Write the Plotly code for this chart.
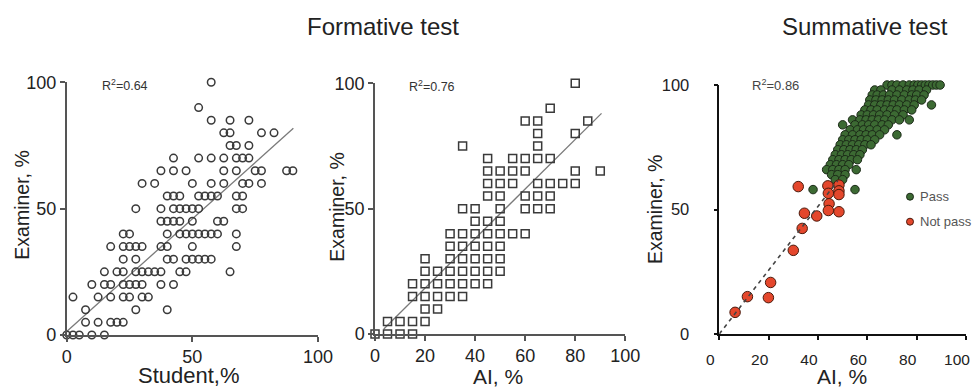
import plotly.graph_objects as go

W, H = 972, 388

# ---------------- Panel 1: Formative test, Student vs Examiner ----------------
student_rows_y = [100, 90, 85, 80, 75, 70, 65, 60, 55, 50, 45, 40, 35, 30, 25, 20, 15, 10, 5, 0]
student_rows_x = [
    [57.5],
    [52.5],
    [57.5, 65, 72.5],
    [62.5, 65, 77.5, 82.5],
    [65, 67.5, 72.5],
    [42.5, 52.5, 57.5, 62.5, 67.5, 70, 72.5],
    [37.5, 42.5, 47.5, 62.5, 67.5, 75, 77.5, 87.5, 90],
    [30, 35, 50, 57.5, 62.5, 70, 72.5, 77.5],
    [40, 42.5, 45, 52.5, 55, 57.5, 60, 67.5, 70],
    [27.5, 37.5, 42.5, 45, 47.5, 50, 52.5, 67.5, 70],
    [37.5, 40, 42.5, 45, 50, 60, 62.5],
    [22.5, 25, 40, 45, 47.5, 50, 52.5, 55, 57.5, 60, 67.5],
    [17.5, 22.5, 25, 27.5, 30, 37.5, 40, 50, 67.5],
    [22.5, 27.5, 40, 42.5, 47.5, 50, 52.5, 55, 57.5],
    [15, 20, 22.5, 27.5, 30, 32.5, 35, 37.5, 45, 47.5, 65],
    [10, 15, 17.5, 22.5, 25, 27.5, 30, 37.5, 42.5],
    [2.5, 12.5, 17.5, 22.5, 25, 30, 32.5],
    [7.5, 27.5, 40],
    [7.5, 12.5, 17.5, 20, 22.5],
    [0, 2.5, 5, 10, 15],
]
student_fit_x = [0, 90.2]
student_fit_y = [1.4, 81.8]

# ---------------- Panel 2: Formative test, AI vs Examiner ----------------
ai_rows_y = [100, 90, 85, 80, 75, 70, 65, 60, 55, 50, 45, 40, 35, 30, 25, 20, 15, 10, 5, 0]
ai_rows_x = [
    [80],
    [70],
    [60, 65, 85],
    [65, 80],
    [35, 65],
    [45, 55, 60, 65, 70],
    [45, 50, 55, 60, 80, 90],
    [45, 50, 55, 65, 70, 75, 80],
    [45, 50, 60, 65, 70],
    [35, 40, 50, 60, 65, 70],
    [40, 45, 50],
    [30, 35, 40, 45, 50, 55, 60],
    [30, 35, 40, 45, 50],
    [20, 30, 35, 40, 45, 50],
    [20, 25, 30, 35, 40, 45, 50],
    [15, 20, 25, 30, 35, 40, 45],
    [15, 20, 25, 30, 35],
    [20, 25],
    [5, 10, 15, 20],
    [0, 5, 10, 15],
]
ai_fit_x = [3.5, 90.5]
ai_fit_y = [2.0, 88.0]

# ---------------- Panel 3: Summative test, AI vs Examiner ----------------
pass_rows_y = [100, 98, 96, 94, 92, 90, 88, 86, 84, 82, 80, 78, 76, 74, 72, 70, 68, 66, 64, 62, 58]
pass_rows_x = [
    [68, 70, 72, 74.5, 77, 79, 80.5, 82, 83.5, 85, 86.5, 88, 89.5],
    [63, 65.5, 70, 73, 76, 78.5, 81, 84],
    [62, 64, 66.5, 69, 72, 75, 78, 80, 83],
    [61, 63.5, 66, 68.5, 71, 74, 77, 79.5, 82],
    [60.5, 63, 65.5, 68, 70.5, 73, 76, 79, 86],
    [59, 61.5, 64, 67, 69.5, 72, 75, 78],
    [57.5, 60, 62.5, 65, 68, 71, 74.5],
    [54, 57, 59.5, 62, 64.5, 67, 70, 73, 77],
    [50, 55, 58, 60.5, 63, 66, 68.5],
    [53, 56, 58.5, 61, 64, 67],
    [51, 54, 57, 59.5, 62, 65, 72],
    [50, 52.5, 55, 57.5, 60, 63],
    [49, 51.5, 54, 56.5, 59, 61.5],
    [48, 50.5, 53, 55.5, 58],
    [47, 49.5, 52, 54.5, 57],
    [46, 48.5, 51, 53.5, 56],
    [45, 47.5, 50, 52.5],
    [43.5, 46, 48.5, 51, 55.5],
    [45.5, 48, 51],
    [47, 50],
    [38, 55],
]
fail_x = [6.4, 11.4, 19.9, 20.8, 30.0, 32.0, 33.6, 34.5, 39.5, 44.0, 44.2, 44.5, 44.2, 48.5, 48.5, 48.5, 48.5]
fail_y = [8.7, 15.0, 14.6, 20.7, 33.6, 59.2, 42.4, 48.5, 47.4, 59.5, 56.5, 52.3, 49.6, 59.8, 57.5, 56.0, 49.1]
sum_fit_x = [0, 48]
sum_fit_y = [0, 61.5]

r2_labels = ["R<sup>2</sup>=0.64", "R<sup>2</sup>=0.76", "R<sup>2</sup>=0.86"]
legend_labels = ["Pass", "Not pass"]


def flatten(rows_y, rows_x):
    xs, ys = [], []
    for yv, row in zip(rows_y, rows_x):
        for xv in row:
            xs.append(xv)
            ys.append(yv)
    return xs, ys


s_x, s_y = flatten(student_rows_y, student_rows_x)
a_x, a_y = flatten(ai_rows_y, ai_rows_x)
p_x, p_y = flatten(pass_rows_y, pass_rows_x)


def px(x):
    return x / W


def py(y):
    return 1 - y / H


FONT = "Liberation Sans, Arial, Helvetica, sans-serif"

fig = go.Figure()

# Panel 1
fig.add_trace(go.Scatter(x=student_fit_x, y=student_fit_y, mode="lines",
                         line=dict(color="#7a7a7a", width=1.3), xaxis="x", yaxis="y",
                         showlegend=False, hoverinfo="skip"))
fig.add_trace(go.Scatter(x=s_x, y=s_y, mode="markers", xaxis="x", yaxis="y",
                         marker=dict(symbol="circle-open", size=7.5, color="#3a3a3a",
                                     line=dict(width=1.5, color="#3a3a3a")),
                         cliponaxis=False, showlegend=False))
# Panel 2
fig.add_trace(go.Scatter(x=ai_fit_x, y=ai_fit_y, mode="lines",
                         line=dict(color="#7a7a7a", width=1.3), xaxis="x2", yaxis="y2",
                         showlegend=False, hoverinfo="skip"))
fig.add_trace(go.Scatter(x=a_x, y=a_y, mode="markers", xaxis="x2", yaxis="y2",
                         marker=dict(symbol="square-open", size=8, color="#3a3a3a",
                                     line=dict(width=1.5, color="#3a3a3a")),
                         cliponaxis=False, showlegend=False))
# Panel 3
fig.add_trace(go.Scatter(x=p_x, y=p_y, mode="markers", xaxis="x3", yaxis="y3",
                         marker=dict(symbol="circle", size=8.5, color="#3c6a33",
                                     line=dict(width=1, color="#1c2a18")),
                         cliponaxis=False, showlegend=False, name=legend_labels[0]))
fig.add_trace(go.Scatter(x=fail_x, y=fail_y, mode="markers", xaxis="x3", yaxis="y3",
                         marker=dict(symbol="circle", size=10.5, color="#e4472c",
                                     line=dict(width=1, color="#4a1a0c")),
                         cliponaxis=False, showlegend=False, name=legend_labels[1]))
fig.add_trace(go.Scatter(x=sum_fit_x, y=sum_fit_y, mode="lines",
                         line=dict(color="#444444", width=1.6, dash="4px,4px"), xaxis="x3", yaxis="y3",
                         showlegend=False, hoverinfo="skip"))

ax12 = dict(range=[0, 100], showline=True, linecolor="#555555", linewidth=1.5,
            ticks="outside", ticklen=5, tickwidth=1.5, tickcolor="#555555",
            showgrid=False, zeroline=False, automargin=False,
            tickfont=dict(family=FONT, size=18, color="#222222"))
ax3 = dict(range=[0, 100], showline=True, linecolor="#111111", linewidth=1.5,
           ticks="outside", ticklen=4, tickwidth=1.5, tickcolor="#111111",
           showgrid=False, zeroline=False, automargin=False)

fig.update_layout(
    width=W, height=H,
    margin=dict(l=0, r=0, t=0, b=0, pad=0, autoexpand=False),
    paper_bgcolor="white", plot_bgcolor="white",
    showlegend=False,
    xaxis=dict(ax12, domain=[px(66.7), px(318)], tickvals=[0, 50, 100], anchor="y"),
    yaxis=dict(ax12, domain=[py(335), py(82.3)], tickvals=[0, 50, 100], anchor="x"),
    xaxis2=dict(ax12, domain=[px(375), px(625.3)], tickvals=[0, 20, 40, 60, 80, 100], anchor="y2"),
    yaxis2=dict(ax12, domain=[py(334), py(83.3)], tickvals=[0, 50, 100], anchor="x2"),
    xaxis3=dict(ax3, domain=[px(719.3), px(966)], tickvals=[0, 20, 40, 60, 80, 100], anchor="y3",
                ticklabelshift=-9, ticklabelstandoff=7,
                tickfont=dict(family=FONT, size=15.5, color="#222222")),
    yaxis3=dict(ax3, domain=[py(334), py(85)], tickvals=[0, 50, 100], anchor="x3",
                ticklabelstandoff=21,
                tickfont=dict(family=FONT, size=16.5, color="#222222")),
)

ann = []


def text(x, y, s, size, color="#222222", angle=0, xanchor="center"):
    ann.append(dict(x=px(x), y=py(y), xref="paper", yref="paper", text=s, showarrow=False,
                    textangle=angle, xanchor=xanchor, yanchor="middle",
                    font=dict(family=FONT, size=size, color=color)))


# titles
text(383, 27, "Formative test", 24)
text(865, 27, "Summative test", 24)
# axis titles
text(21.7, 205, "Examiner, %", 19.5, angle=-90)
text(189, 375.5, "Student,%", 22)
text(336.7, 207, "Examiner, %", 19.5, angle=-90)
text(498.3, 376, "AI, %", 21)
text(655, 210, "Examiner, %", 19.5, angle=-90)
text(841.7, 376, "AI, %", 21)
# R^2
text(100, 85, r2_labels[0], 12.5, color="#333333", xanchor="left")
text(407, 86, r2_labels[1], 12.5, color="#333333", xanchor="left")
text(750, 85, r2_labels[2], 13, color="#444444", xanchor="left")
# legend
text(918, 196.7, legend_labels[0], 13, color="#555555", xanchor="left")
text(918, 221.7, legend_labels[1], 13, color="#555555", xanchor="left")

shapes = [
    dict(type="circle", xref="paper", yref="paper", x0=px(906.5), x1=px(913.5),
         y0=py(200.2), y1=py(193.2), fillcolor="#3c6a33", line=dict(color="#1c2a18", width=1)),
    dict(type="circle", xref="paper", yref="paper", x0=px(906.5), x1=px(913.5),
         y0=py(225.2), y1=py(218.2), fillcolor="#e4472c", line=dict(color="#4a1a0c", width=1)),
]

fig.update_layout(annotations=ann, shapes=shapes)
fig.write_html("out.html")
